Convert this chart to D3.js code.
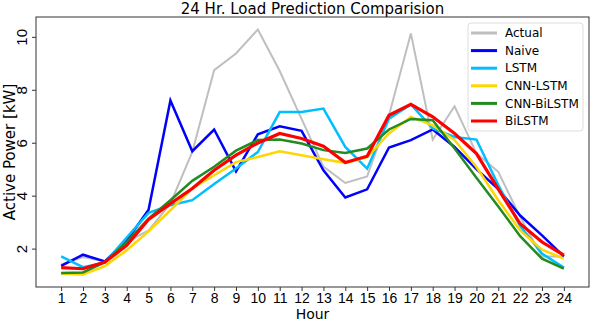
<!DOCTYPE html>
<html lang="en">
<head>
<meta charset="UTF-8">
<title>24 Hr. Load Prediction Comparision</title>
<script src="https://cdn.jsdelivr.net/npm/d3@7"></script>
<style>
    body { margin: 0; background: #fff; }
    svg { font-family: "DejaVu Sans", sans-serif; }
    .axis path, .axis line { stroke: #333; }
    .axis text { fill: #000; font-size: 15px; }
</style>
</head>
<body>
<svg id="main" width="590" height="322"></svg>
<script>

    // values
    var hours = d3.range(1, 25);

    var actual    = [1.4, 1.68, 1.52, 2.25, 2.69, 3.7, 5.65, 8.74, 9.37, 10.28, 8.71, 6.9, 5.1, 4.48, 4.73, 7.04, 10.13, 6.12, 7.38, 5.6, 4.9, 3.2, 1.7, 1.7];
    var naive     = [1.35, 1.77, 1.52, 2.3, 3.47, 7.6, 5.68, 6.5, 4.92, 6.32, 6.62, 6.45, 4.96, 3.93, 4.24, 5.82, 6.1, 6.5, 5.84, 5.0, 4.25, 3.25, 2.5, 1.71];
    var lstm      = [1.71, 1.3, 1.47, 2.42, 3.35, 3.64, 3.83, 4.44, 5.03, 5.65, 7.16, 7.16, 7.29, 5.84, 5.02, 6.91, 7.45, 6.54, 6.22, 6.12, 4.4, 2.85, 1.81, 1.28];
    var cnnLstm   = [1.05, 1.02, 1.34, 1.94, 2.65, 3.45, 4.27, 4.77, 5.27, 5.46, 5.68, 5.53, 5.38, 5.24, 5.46, 6.35, 6.98, 6.66, 6.1, 5.08, 3.83, 2.69, 1.96, 1.62];
    var cnnBiLstm = [1.08, 1.1, 1.49, 2.25, 3.13, 3.83, 4.56, 5.09, 5.7, 6.1, 6.12, 5.97, 5.72, 5.61, 5.78, 6.5, 6.9, 6.85, 5.78, 4.68, 3.59, 2.47, 1.62, 1.24];
    var biLstm    = [1.28, 1.24, 1.49, 2.12, 3.1, 3.7, 4.27, 4.96, 5.53, 5.99, 6.35, 6.16, 5.87, 5.25, 5.49, 7.04, 7.45, 6.98, 6.35, 5.59, 4.25, 2.94, 2.25, 1.75];

    var yTicks = [2, 4, 6, 8, 10];

    var series = [
        {name: "Actual",     values: actual,    color: "#bfbfbf", width: 2},
        {name: "Naive",      values: naive,     color: "#0000ff", width: 2.5},
        {name: "LSTM",       values: lstm,      color: "#00bfff", width: 2.5},
        {name: "CNN-LSTM",   values: cnnLstm,   color: "#ffd700", width: 2.5},
        {name: "CNN-BiLSTM", values: cnnBiLstm, color: "#228b22", width: 2.5},
        {name: "BiLSTM",     values: biLstm,    color: "#ff0000", width: 3.2}
    ];

    var svg = d3.select("svg"),
        margin = {top: 17, right: 1, bottom: 35, left: 36},
        width = +svg.attr("width") - margin.left - margin.right,
        height = +svg.attr("height") - margin.top - margin.bottom,
        g = svg.append("g").attr("transform", "translate(" + margin.left + "," + margin.top + ")");

    var x = d3.scaleLinear().domain([-0.15, 25.15]).range([0, width]);
    var y = d3.scaleLinear().domain([0.55, 10.75]).range([height, 0]);

    var line = d3.line()
        .x(function(d, i) { return x(hours[i]); })
        .y(function(d) { return y(d); });

    g.selectAll(".serie")
        .data(series)
        .enter().append("path")
        .attr("class", "serie")
        .attr("fill", "none")
        .attr("stroke", function(d) { return d.color; })
        .attr("stroke-width", function(d) { return d.width; })
        .attr("stroke-linejoin", "miter")
        .attr("d", function(d) { return line(d.values); });

    // frame
    g.append("rect")
        .attr("width", width)
        .attr("height", height)
        .attr("fill", "none")
        .attr("stroke", "#333")
        .attr("stroke-width", 1);

    var xAxis = g.append("g")
        .attr("class", "axis")
        .attr("transform", "translate(0," + height + ")")
        .call(d3.axisBottom(x).tickValues(hours).tickSize(4).tickPadding(2).tickFormat(d3.format("d")));
    xAxis.select(".domain").remove();
    xAxis.selectAll("text").style("font-size", "14px");

    var yAxis = g.append("g")
        .attr("class", "axis")
        .call(d3.axisLeft(y).tickValues(yTicks).tickSize(4).tickFormat(d3.format("d")));
    yAxis.select(".domain").remove();
    // y tick labels are turned on their side, as in the reference
    yAxis.selectAll("text")
        .attr("x", 0)
        .attr("y", -9)
        .attr("dy", 0)
        .attr("text-anchor", "middle")
        .attr("transform", "rotate(-90)");

    svg.append("text")
        .attr("x", margin.left + width / 2)
        .attr("y", 14)
        .attr("text-anchor", "middle")
        .style("font-size", "15px")
        .text("24 Hr. Load Prediction Comparision");

    svg.append("text")
        .attr("x", margin.left + width / 2)
        .attr("y", 318.6)
        .attr("text-anchor", "middle")
        .style("font-size", "14px")
        .text("Hour");

    svg.append("text")
        .attr("transform", "translate(15," + (margin.top + height / 2) + ") rotate(-90)")
        .attr("text-anchor", "middle")
        .style("font-size", "15px")
        .text("Active Power [kW]");

    // legend
    var legend = svg.append("g")
        .attr("transform", "translate(468,23)");

    legend.append("rect")
        .attr("width", 115)
        .attr("height", 108)
        .attr("rx", 3)
        .attr("fill", "#fff")
        .attr("fill-opacity", 0.85)
        .attr("stroke", "#ddd");

    var item = legend.selectAll(".legend")
        .data(series)
        .enter().append("g")
        .attr("class", "legend")
        .attr("transform", function(d, i) { return "translate(0," + (10 + i * 17.6) + ")"; });

    item.append("line")
        .attr("x1", 3)
        .attr("x2", 29)
        .attr("stroke", function(d) { return d.color; })
        .attr("stroke-width", 3);

    item.append("text")
        .attr("x", 37)
        .attr("dy", "0.35em")
        .style("font-size", "12px")
        .text(function(d) { return d.name; });

</script>
</body>
</html>
